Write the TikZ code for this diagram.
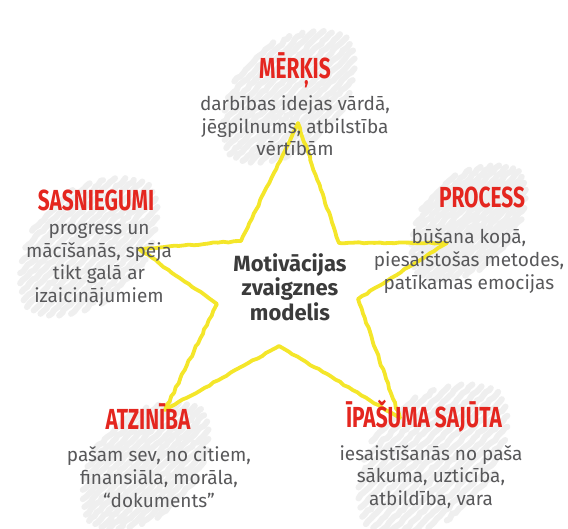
\documentclass[tikz,border=0pt]{standalone}
\usepackage{fontspec}
\setmainfont{Fira Sans}
\newfontfamily\titlefont[FakeStretch=0.72]{Fira Sans}
\usepackage{tikz}
\usetikzlibrary{positioning,calc,decorations.pathmorphing}

\definecolor{starYellow}{HTML}{F4E62A}
\definecolor{titleRed}{HTML}{E4261F}
\definecolor{bodyGray}{HTML}{58585A}
\definecolor{centerGray}{HTML}{3B3B3B}
\definecolor{brushGray}{HTML}{EFEFEF}

% faint diagonal brush strokes behind a text group
\newcommand{\brushpatch}[3]{%
  \begin{scope}[shift={(#1,#2)}, rotate=45, scale=#3]
    \foreach \o/\l in {-42/24,-36/38,-30/48,-24/56,-18/62,-12/66,-6/70,0/72,6/70,12/68,18/64,24/58,30/50,36/40,42/26}
      \draw[brush] (-\l,\o) -- (\l,\o);
  \end{scope}}

\begin{document}
\begin{tikzpicture}[
    x=1pt, y=-1pt,
    title/.style={font=\titlefont\bfseries\fontsize{29}{29}\selectfont, text=titleRed, anchor=base, inner sep=0pt},
    body/.style={font=\fontsize{19}{22.7}\selectfont, text=bodyGray, align=center, inner sep=0pt},
    hub/.style={font=\bfseries\fontsize{22}{24.5}\selectfont, text=centerGray, align=center, inner sep=0pt},
    brush/.style={brushGray, line width=6pt, line cap=round, decorate, decoration={random steps, segment length=4pt, amplitude=1pt}},
    starline/.style={starYellow, line width=3.8pt, line join=round, line cap=round, decorate, decoration={random steps, segment length=5pt, amplitude=0.7pt}}
]
\useasboundingbox (0,0) rectangle (568,529);

% background brushes
\brushpatch{288}{96}{1.15}
\brushpatch{88}{246}{1.2}
\brushpatch{468}{222}{1.0}
\brushpatch{145}{465}{1.1}
\brushpatch{432}{458}{1.3}

% star corners
\coordinate (top) at (298,123);
\coordinate (innerTR) at (339,243);
\coordinate (right) at (447,243);
\coordinate (innerR) at (358,299);
\coordinate (bottomR) at (400,418);
\coordinate (innerB) at (279,346);
\coordinate (bottomL) at (165,410);
\coordinate (innerBL) at (217,304);
\coordinate (left) at (139,249);
\coordinate (innerTL) at (241,241);

\draw[starline] (top) -- (innerTR) -- (right) -- (innerR) -- (bottomR) -- (innerB)
  -- (bottomL) -- (innerBL) -- (left) -- (innerTL) -- cycle;

\node[hub] (model) at (290,287) {Motivācijas\\zvaigznes\\modelis};

\node[title] (merkis) at (295,79) {MĒRĶIS};
\node[body] (merkisText) at (295,126) {darbības idejas vārdā,\\jēgpilnums, atbilstība\\vērtībām};

\node[title] (sasniegumi) at (96,211) {SASNIEGUMI};
\node[body] (sasniegumiText) at (99,265) {progress un\\mācīšanās, spēja\\tikt galā ar\\izaicinājumiem};

\node[title] (process) at (482,208) {PROCESS};
\node[body] (processText) at (469,261) {būšana kopā,\\piesaistošas metodes,\\patīkamas emocijas};

\node[title] (atziniba) at (148,430) {ATZINĪBA};
\node[body] (atzinibaText) at (159,477) {pašam sev, no citiem,\\finansiāla, morāla,\\“dokuments”};

\node[title] (ipasums) at (424,428) {ĪPAŠUMA SAJŪTA};
\node[body] (ipasumsText) at (431,477) {iesaistīšanās no paša\\sākuma, uzticība,\\atbildība, vara};

\end{tikzpicture}
\end{document}
